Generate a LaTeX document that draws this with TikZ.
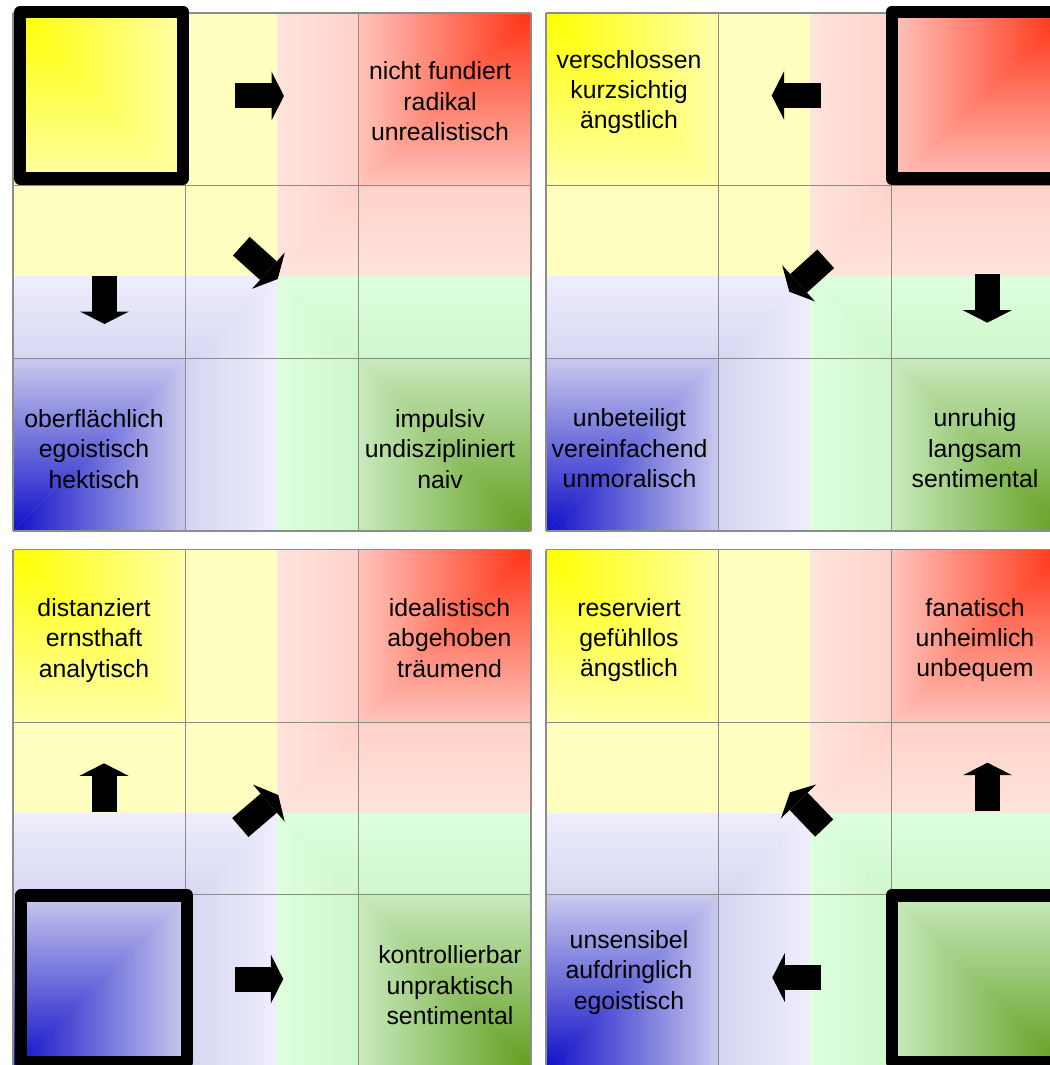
\documentclass[tikz,border=0pt]{standalone}
\usepackage{fontspec}
\setmainfont{Liberation Sans}
\usetikzlibrary{arrows.meta}
\definecolor{yelStrong}{RGB}{255,255,0}
\definecolor{yelLight}{RGB}{255,255,170}
\definecolor{yelBg}{RGB}{255,255,192}
\definecolor{redStrong}{RGB}{255,50,20}
\definecolor{redLight}{RGB}{255,196,188}
\definecolor{redBgOut}{RGB}{255,172,164}
\definecolor{redBgIn}{RGB}{255,228,220}
\definecolor{bluStrong}{RGB}{16,16,200}
\definecolor{bluLight}{RGB}{202,202,238}
\definecolor{bluBgOut}{RGB}{165,165,222}
\definecolor{bluBgIn}{RGB}{238,238,252}
\definecolor{grnStrong}{RGB}{98,158,30}
\definecolor{grnLight}{RGB}{200,234,190}
\definecolor{grnBgOut}{RGB}{180,230,168}
\definecolor{grnBgIn}{RGB}{221,255,221}
\definecolor{gridgray}{RGB}{140,140,140}
\tikzset{
  gridline/.style={gridgray, line width=0.6pt},
  startframe/.style={black, line width=6.15pt, line join=round},
  blockarrow/.style={black, line width=12.5pt, -{Triangle[length=6.25pt, width=24.5pt, line width=0pt]}},
  celltext/.style={align=center, inner sep=0pt, font=\fontsize{12.4}{15.2}\selectfont}
}

\begin{document}
\begin{tikzpicture}[x=0.5pt, y=-0.5pt]
\useasboundingbox (0,0) rectangle (1049,1065);

% the four panels: shaded quarters and grid
\foreach \ox/\oy in {13/13, 546/13, 13/549.5, 546/549.5} {
  \begin{scope}[shift={(\ox,\oy)}]
    % yellow quarter
    \fill[yelBg] (0,0) rectangle (264,263);
    \shade[left color=yelStrong, right color=yelLight] (0,0) -- (172.67,0) -- (172.67,172.67) -- cycle;
    \shade[top color=yelStrong, bottom color=yelLight] (0,0) -- (0,172.67) -- (172.67,172.67) -- cycle;
    % red quarter
    \fill[redBgOut!50!redBgIn] (264,0) rectangle (518,263);
    \shade[left color=redBgIn, right color=redBgOut] (518,0) -- (264,0) -- (264,263) -- cycle;
    \shade[top color=redBgOut, bottom color=redBgIn] (518,0) -- (518,263) -- (264,263) -- cycle;
    \shade[left color=redLight, right color=redStrong] (518,0) -- (345.33,0) -- (345.33,172.67) -- cycle;
    \shade[top color=redStrong, bottom color=redLight] (518,0) -- (518,172.67) -- (345.33,172.67) -- cycle;
    % blue quarter
    \fill[bluBgOut!50!bluBgIn] (0,263) rectangle (264,518);
    \shade[left color=bluBgOut, right color=bluBgIn] (0,518) -- (264,518) -- (264,263) -- cycle;
    \shade[top color=bluBgIn, bottom color=bluBgOut] (0,518) -- (0,263) -- (264,263) -- cycle;
    \shade[left color=bluStrong, right color=bluLight] (0,518) -- (172.67,518) -- (172.67,345.33) -- cycle;
    \shade[top color=bluLight, bottom color=bluStrong] (0,518) -- (0,345.33) -- (172.67,345.33) -- cycle;
    % green quarter
    \fill[grnBgOut!50!grnBgIn] (264,263) rectangle (518,518);
    \shade[left color=grnBgIn, right color=grnBgOut] (518,518) -- (264,518) -- (264,263) -- cycle;
    \shade[top color=grnBgIn, bottom color=grnBgOut] (518,518) -- (518,263) -- (264,263) -- cycle;
    \shade[left color=grnLight, right color=grnStrong] (518,518) -- (345.33,518) -- (345.33,345.33) -- cycle;
    \shade[top color=grnLight, bottom color=grnStrong] (518,518) -- (518,345.33) -- (345.33,345.33) -- cycle;
    % grid
    \foreach \k in {0,172.67,345.33,518} {
      \draw[gridline] (\k,0) -- (\k,518);
      \draw[gridline] (0,\k) -- (518,\k);
    }
  \end{scope}
}

% starting cells
\draw[startframe] (20.3,12) rectangle (183,178.5);
\draw[startframe] (891.7,12) rectangle (1058,178.5);
\draw[startframe] (21,895.5) rectangle (187.2,1062);
\draw[startframe] (891.7,895.5) rectangle (1058,1062);

% arrows
\foreach \sx/\sy/\ex/\ey [count=\i] in {
    235/96/284/96, 104.5/276/104.5/324, 241.3/246.2/277.7/279,
    820.7/95.5/771.7/95.5, 987.3/274.3/987.3/322.7, 825.7/258.8/789.3/291.7,
    104/812.3/104/763.3, 240.3/827.5/278.3/795, 235/979/283.3/979,
    987.5/810.7/987.5/762.7, 824.2/828/790/792.3, 821/977.5/772.3/977.5} {
  \coordinate (tail\i) at (\sx,\sy);
  \coordinate (tip\i) at (\ex,\ey);
  \draw[blockarrow] (tail\i) -- (tip\i);
}

% texts
\node[celltext] (ul-tr) at (440,101.5) {nicht fundiert\\radikal\\unrealistisch};
\node[celltext] (ul-bl) at (94,449) {oberflächlich\\egoistisch\\hektisch};
\node[celltext] (ul-br) at (440,449) {impulsiv\\undiszipliniert\\naiv};

\node[celltext] (ur-tl) at (629,92) {verschlossen\\kurzsichtig\\ängstlich};
\node[celltext] (ur-bl) at (629.5,448.5) {unbeteiligt\\vereinfachend\\unmoralisch};
\node[celltext] (ur-br) at (975,448.5) {unruhig\\langsam\\sentimental};

\node[celltext] (ll-tl) at (94,640.5) {distanziert\\ernsthaft\\analytisch};
\node[celltext] (ll-tr) at (449.5,638) {idealistisch\\abgehoben\\träumend};
\node[celltext] (ll-br) at (450,985.5) {kontrollierbar\\unpraktisch\\sentimental};

\node[celltext] (lr-tl) at (629,640) {reserviert\\gefühllos\\ängstlich};
\node[celltext] (lr-tr) at (975,640) {fanatisch\\unheimlich\\unbequem};
\node[celltext] (lr-bl) at (629,972.5) {unsensibel\\aufdringlich\\egoistisch};
\end{tikzpicture}
\end{document}
